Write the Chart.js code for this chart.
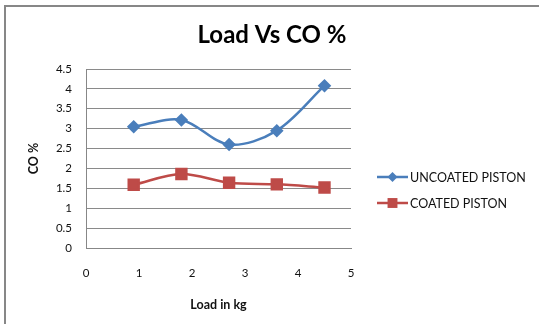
<!DOCTYPE html>
<html>
<head>
<meta charset="utf-8">
<script src="https://cdn.jsdelivr.net/npm/chart.js@4.4.1/dist/chart.umd.min.js"></script>
<style>
  html, body { margin: 0; padding: 0; background: #fff; }
  #wrap { position: relative; width: 539px; height: 324px; overflow: hidden; }
  #frame { position: absolute; left: 4px; top: 5px; width: 600px; height: 400px;
           border-top: 2px solid #878787; border-left: 2px solid #878787; }
  canvas { position: absolute; left: 0; top: 0; }
</style>
</head>
<body>
<div id="wrap">
  <div id="frame"></div>
  <canvas id="coChart" width="539" height="324"></canvas>
</div>
<script>
// data
const loads = [0.9, 1.8, 2.7, 3.6, 4.5];
const uncoatedCO = [3.05, 3.22, 2.6, 2.95, 4.08];
const coatedCO = [1.59, 1.86, 1.64, 1.6, 1.52];
const seriesNames = ["UNCOATED PISTON", "COATED PISTON"];
const chartTitle = "Load Vs CO %";
const xTicks = [0, 1, 2, 3, 4, 5];
const yTicks = [0, 0.5, 1, 1.5, 2, 2.5, 3, 3.5, 4, 4.5];

const FONT = "Lato, 'Open Sans', sans-serif";

// title + legend drawn by hand so they sit where excel put them
const sideLegend = {
    id: "sideLegend",
    afterDraw(chart) {
        const ctx = chart.ctx;
        ctx.save();
        ctx.fillStyle = "#000";
        ctx.font = "bold 24px " + FONT;
        ctx.textAlign = "center";
        ctx.textBaseline = "middle";
        ctx.fillText(chartTitle, 272, 35);
        ctx.restore();

        const x1 = 377, x2 = 408, rowY = [177, 203];
        chart.data.datasets.forEach((ds, i) => {
            const y = rowY[i];
            const mid = (x1 + x2) / 2;
            ctx.save();
            ctx.strokeStyle = ds.borderColor;
            ctx.lineWidth = ds.borderWidth;
            ctx.beginPath();
            ctx.moveTo(x1, y);
            ctx.lineTo(x2, y);
            ctx.stroke();
            ctx.fillStyle = ds.pointBackgroundColor;
            const r = ds.pointRadius;
            ctx.beginPath();
            if (ds.pointStyle === "rectRot") {
                ctx.moveTo(mid, y - r);
                ctx.lineTo(mid + r, y);
                ctx.lineTo(mid, y + r);
                ctx.lineTo(mid - r, y);
                ctx.closePath();
            } else {
                const s = r * Math.SQRT1_2;
                ctx.rect(mid - s, y - s, 2 * s, 2 * s);
            }
            ctx.fill();
            ctx.fillStyle = "#111";
            ctx.font = "12.5px " + FONT;
            ctx.textBaseline = "middle";
            ctx.textAlign = "left";
            ctx.fillText(ds.label, x2 + 2, y + 1);
            ctx.restore();
        });
    }
};

new Chart(document.getElementById("coChart").getContext("2d"), {
    type: "line",
    data: {
        datasets: [
            {
                label: seriesNames[0],
                data: loads.map((x, i) => ({ x: x, y: uncoatedCO[i] })),
                borderColor: "#4a7ebb",
                pointBackgroundColor: "#4a7ebb",
                pointBorderColor: "#4a7ebb",
                pointStyle: "rectRot",
                pointRadius: 5,
                borderWidth: 2.5,
                tension: 0.33,
            },
            {
                label: seriesNames[1],
                data: loads.map((x, i) => ({ x: x, y: coatedCO[i] })),
                borderColor: "#be4b48",
                pointBackgroundColor: "#be4b48",
                pointBorderColor: "#be4b48",
                pointStyle: "rect",
                pointRadius: 7,
                borderWidth: 2.5,
                tension: 0.33,
            },
        ],
    },
    options: {
        responsive: false,
        animation: false,
        layout: { padding: { left: 0, right: 188, top: 69, bottom: 0 } },
        plugins: {
            legend: { display: false },
            tooltip: { enabled: false },
            title: { display: false },
        },
        scales: {
            x: {
                type: "linear",
                min: 0,
                max: 5,
                afterBuildTicks: (s) => { s.ticks = xTicks.map((v) => ({ value: v })); },
                afterFit: (s) => { s.height = 76; },
                grid: { display: false, drawTicks: false },
                border: { display: true, color: "#878787", width: 1 },
                ticks: {
                    color: "#111",
                    font: { family: FONT, size: 11.5 },
                    padding: 18,
                    callback: (v) => String(v),
                },
                title: {
                    display: true,
                    text: "Load in kg",
                    color: "#111",
                    font: { family: FONT, size: 12.5, weight: "bold" },
                    padding: { top: 0, bottom: 12 },
                },
            },
            y: {
                type: "linear",
                min: 0,
                max: 4.5,
                afterBuildTicks: (s) => { s.ticks = yTicks.map((v) => ({ value: v })); },
                afterFit: (s) => { s.width = 86; },
                grid: { color: "#8a8a8a", lineWidth: 1, drawTicks: false },
                border: { display: true, color: "#878787", width: 1 },
                ticks: {
                    color: "#111",
                    font: { family: FONT, size: 11.5 },
                    padding: 14,
                    callback: (v) => String(v),
                },
                title: {
                    display: true,
                    text: "CO %",
                    color: "#111",
                    font: { family: FONT, size: 12.5, weight: "bold" },
                    padding: { top: 26, bottom: 0 },
                },
            },
        },
    },
    plugins: [sideLegend],
});
</script>
</body>
</html>
